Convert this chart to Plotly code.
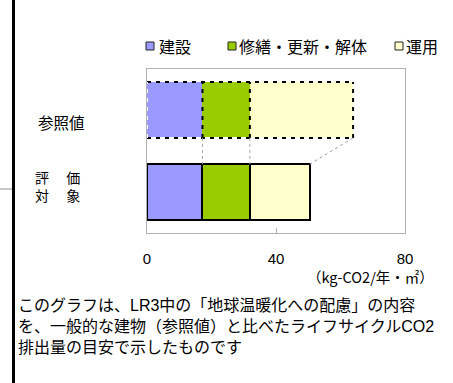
import plotly.graph_objects as go

# ---- data ----
categories = ["評価対象", "参照値"]
series_names = ["建設", "修繕・更新・解体", "運用"]
construction = [17.2, 17.2]
renovation = [14.7, 14.7]
operation = [18.6, 32.0]
series_values = [construction, renovation, operation]
colors = ["#9999FF", "#99CC00", "#FFFFCC"]
tick_vals = [0, 40, 80]
tick_text = ["0", "40", "80"]
unit_label = "（kg-CO2/年・㎡）"
note_lines = [
    "このグラフは、LR3中の「地球温暖化への配慮」の内容",
    "を、一般的な建物（参照値）と比べたライフサイクルCO2",
    "排出量の目安で示したものです",
]

JP = "Noto Sans CJK JP"
MIX = "Liberation Sans, Noto Sans CJK JP"
LAT = "Liberation Sans, Arial, Noto Sans CJK JP"

# plot-area pixel geometry
Wd, Ht = 453, 383
L, R, T, B = 147, 405, 69, 233
PW, PH = R - L, B - T
def fx(px): return (px - L) / PW
def fy(py): return (B - py) / PH

BAR_W = 0.68
fig = go.Figure()
for name, vals, col in zip(series_names, series_values, colors):
    fig.add_trace(go.Bar(
        name=name, y=categories, x=vals, orientation="h",
        width=BAR_W, showlegend=False,
        marker=dict(color=col, line=dict(color="black", width=[2, 0])),
    ))

shapes = []
half = BAR_W / 2
def cum(i):
    out, s = [], 0
    for v in series_values:
        s += v[i]
        out.append(s)
    return out
ev, rf = cum(0), cum(1)
ry0, ry1 = 1 - half, 1 + half
dash = "4px,5px"
# reference bar dashed outline
shapes.append(dict(type="line", xref="x", yref="y", x0=0, x1=rf[-1], y0=ry0, y1=ry0,
                   line=dict(color="white", width=2)))
for (x0, y0, x1, y1) in [(0, ry1, rf[-1], ry1), (0, ry0, rf[-1], ry0),
                         (rf[-1], ry0, rf[-1], ry1), (rf[0], ry0, rf[0], ry1),
                         (rf[1], ry0, rf[1], ry1)]:
    shapes.append(dict(type="line", xref="x", yref="y", x0=x0, x1=x1, y0=y0, y1=y1,
                       line=dict(color="black", width=2, dash=dash)))
shapes.append(dict(type="line", xref="x", yref="y", x0=0, x1=0, y0=ry0, y1=ry1,
                   line=dict(color="white", width=2, dash=dash)))
# series connector lines
for a, b in zip(rf, ev):
    shapes.append(dict(type="line", xref="x", yref="y", x0=a, x1=b, y0=ry0, y1=half,
                       line=dict(color="#a0a0a0", width=1, dash="dot")))
# page decorations
shapes.append(dict(type="line", xref="paper", yref="paper", x0=fx(13.5), x1=fx(13.5),
                   y0=fy(Ht + 5), y1=fy(-5), line=dict(color="black", width=3)))
shapes.append(dict(type="line", xref="paper", yref="paper", x0=fx(0), x1=fx(12),
                   y0=fy(189), y1=fy(189), line=dict(color="#c8c8c8", width=2)))

annotations = []
# custom legend
legend_pos = [(146, 157), (228, 237), (395, 404)]
for (sx, tx), name, col in zip(legend_pos, series_names, colors):
    shapes.append(dict(type="rect", xref="paper", yref="paper",
                       x0=fx(sx), x1=fx(sx + 8), y0=fy(50), y1=fy(42),
                       fillcolor=col, line=dict(color="#222", width=1)))
    annotations.append(dict(xref="paper", yref="paper", x=fx(tx), y=fy(46),
                            xanchor="left", yanchor="middle", showarrow=False,
                            text=name, font=dict(family=JP, size=16, color="black")))
# category labels
annotations.append(dict(xref="paper", yref="paper", x=fx(36), y=fy(122), xanchor="left",
                        yanchor="middle", showarrow=False, text=categories[1],
                        font=dict(family=JP, size=15.5, color="black")))
annotations.append(dict(xref="paper", yref="paper", x=fx(33), y=fy(185.5), xanchor="left",
                        yanchor="middle", showarrow=False, align="left",
                        text="評　 価<br>対　 象",
                        font=dict(family=JP, size=14, color="black")))
# unit
annotations.append(dict(xref="paper", yref="paper", x=fx(436), y=fy(276), xanchor="right",
                        yanchor="middle", showarrow=False, text=unit_label,
                        font=dict(family=JP, size=14.5, color="black")))
# note
annotations.append(dict(xref="paper", yref="paper", x=fx(16), y=fy(326.5), xanchor="left",
                        yanchor="middle", showarrow=False, align="left",
                        text="<br>".join(note_lines),
                        font=dict(family=MIX, size=16, color="black")))

fig.update_layout(
    width=Wd, height=Ht, barmode="stack",
    margin=dict(l=L, r=Wd - R, t=T, b=Ht - B, pad=0),
    paper_bgcolor="white", plot_bgcolor="white",
    shapes=shapes, annotations=annotations, showlegend=False,
    xaxis=dict(range=[0, 80], tickvals=tick_vals, ticktext=tick_text,
               showgrid=False, zeroline=False, showline=True, mirror=True,
               linecolor="#b0b0b0", linewidth=1, ticks="inside", ticklen=5,
               tickcolor="#b0b0b0", ticklabelstandoff=12,
               tickfont=dict(family=LAT, size=15, color="black")),
    yaxis=dict(type="category", categoryorder="array", categoryarray=categories,
               range=[-0.5, 1.5], showticklabels=False, showgrid=False, zeroline=False,
               showline=True, mirror=True, linecolor="#b0b0b0", linewidth=1, ticks=""),
)
fig.write_html("out.html")
